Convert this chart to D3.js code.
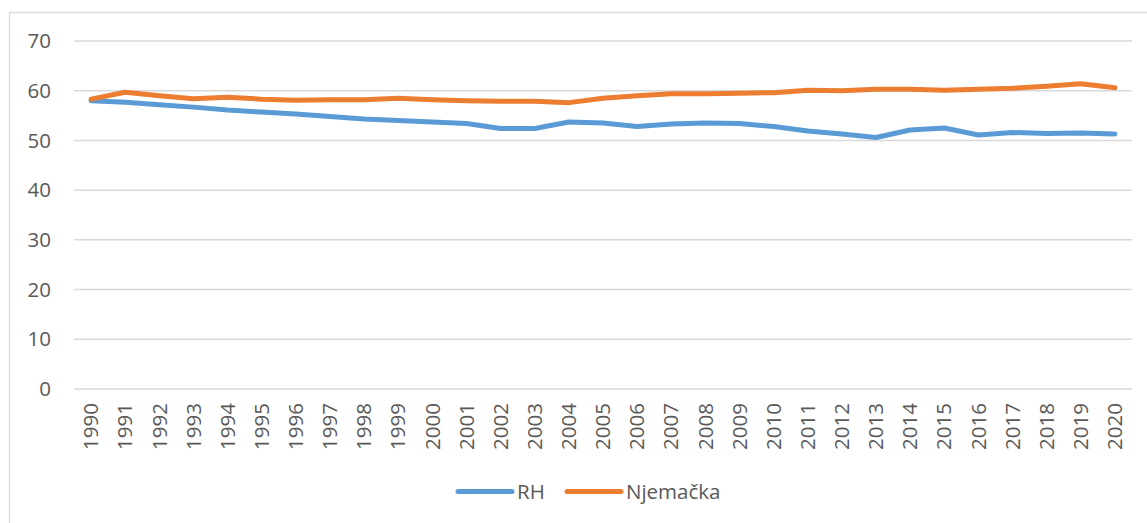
<!DOCTYPE html>
<html>
<head>
<meta charset="utf-8">
<script src="https://cdn.jsdelivr.net/npm/d3@7"></script>
<style>
  body { margin: 0; background: #fff; }
  text { font-family: "Open Sans", "Liberation Sans", sans-serif; fill: #595959; }
</style>
</head>
<body>
<div class="chart"></div>
<script>
var years = ["1990","1991","1992","1993","1994","1995","1996","1997","1998","1999",
  "2000","2001","2002","2003","2004","2005","2006","2007","2008","2009",
  "2010","2011","2012","2013","2014","2015","2016","2017","2018","2019","2020"];

var rh = [58.0, 57.7, 57.2, 56.7, 56.1, 55.7, 55.3, 54.8, 54.3, 54.0,
  53.7, 53.4, 52.4, 52.4, 53.7, 53.5, 52.8, 53.3, 53.5, 53.4,
  52.8, 51.9, 51.3, 50.6, 52.1, 52.5, 51.1, 51.6, 51.4, 51.5, 51.3];

var njemacka = [58.3, 59.7, 59.0, 58.4, 58.7, 58.3, 58.1, 58.2, 58.2, 58.5,
  58.2, 58.0, 57.9, 57.9, 57.6, 58.5, 59.0, 59.4, 59.4, 59.5,
  59.6, 60.1, 60.0, 60.3, 60.3, 60.1, 60.3, 60.5, 60.9, 61.4, 60.6];

var yTicks = [0, 10, 20, 30, 40, 50, 60, 70];

var seriesNames = ["RH", "Njemačka"];
var colors = ["#5B9BD5", "#ED7D31"];

var svgWidth = 1147;
var svgHeight = 523;

var svg = d3.select(".chart")
  .append("svg")
  .attr("width", svgWidth)
  .attr("height", svgHeight);

// chart area border
svg.append("rect")
  .attr("x", 9.5)
  .attr("y", 12.5)
  .attr("width", 1150)
  .attr("height", 530)
  .attr("fill", "none")
  .attr("stroke", "#D9D9D9")
  .attr("stroke-width", 1.3);

var xScale = d3.scalePoint()
  .domain(years)
  .range([74, 1132])
  .padding(0.5);

var yScale = d3.scaleLinear()
  .domain([0, 70])
  .range([389, 41]);

// gridlines
svg.append("g")
  .selectAll("line")
  .data(yTicks)
  .enter()
  .append("line")
  .attr("x1", 74)
  .attr("x2", 1132)
  .attr("y1", d => yScale(d))
  .attr("y2", d => yScale(d))
  .attr("stroke", "#D9D9D9")
  .attr("stroke-width", 1.5);

// y labels
svg.append("g")
  .selectAll("text")
  .data(yTicks)
  .enter()
  .append("text")
  .attr("x", 51)
  .attr("y", d => yScale(d))
  .attr("dy", "0.35em")
  .attr("text-anchor", "end")
  .style("font-size", "20.5px")
  .text(d => d);

// x labels
svg.append("g")
  .selectAll("text")
  .data(years)
  .enter()
  .append("text")
  .attr("transform", d => `translate(${xScale(d)}, 403) rotate(-90)`)
  .attr("dy", "0.35em")
  .attr("text-anchor", "end")
  .style("font-size", "20.5px")
  .text(d => d);

var line = d3.line()
  .x((d, i) => xScale(years[i]))
  .y(d => yScale(d));

[rh, njemacka].forEach(function(values, i) {
  svg.append("path")
    .datum(values)
    .attr("d", line)
    .attr("fill", "none")
    .attr("stroke", colors[i])
    .attr("stroke-width", 5)
    .attr("stroke-linejoin", "round")
    .attr("stroke-linecap", "round");
});

// legend
var legendX = [458, 567];
seriesNames.forEach(function(name, i) {
  svg.append("line")
    .attr("x1", legendX[i])
    .attr("x2", legendX[i] + 54)
    .attr("y1", 491.5)
    .attr("y2", 491.5)
    .attr("stroke", colors[i])
    .attr("stroke-width", 5)
    .attr("stroke-linecap", "round");
  svg.append("text")
    .attr("x", legendX[i] + 59)
    .attr("y", 491.5)
    .attr("dy", "0.35em")
    .style("font-size", "20.5px")
    .text(name);
});
</script>
</body>
</html>
